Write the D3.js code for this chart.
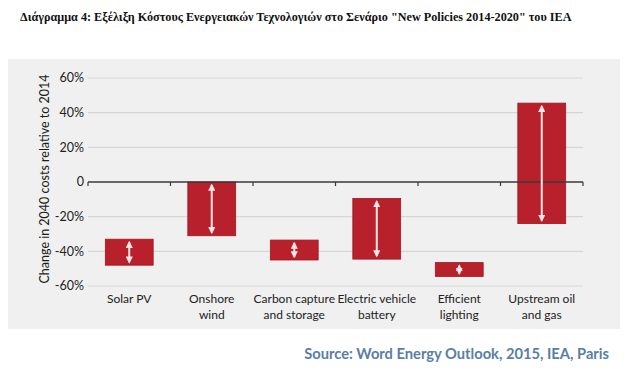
<!DOCTYPE html>
<html>
<head>
<meta charset="utf-8">
<script src="https://cdn.jsdelivr.net/npm/d3@7"></script>
<style>
  html, body { margin: 0; padding: 0; background: #ffffff; }
  svg { display: block; }
</style>
</head>
<body>
<svg id="chart" width="637" height="374"></svg>
<script>
const titleText = 'Διάγραμμα 4: Εξέλιξη Κόστους Ενεργειακών Τεχνολογιών στο Σενάριο "New Policies 2014-2020" του IEA';
const sourceText = 'Source: Word Energy Outlook, 2015, IEA, Paris';
const yAxisTitle = 'Change in 2040 costs relative to 2014';
const categories = [
  ['Solar PV'],
  ['Onshore', 'wind'],
  ['Carbon capture', 'and storage'],
  ['Electric vehicle', 'battery'],
  ['Efficient', 'lighting'],
  ['Upstream oil', 'and gas']
];
const lowValues  = [-48, -31, -45, -44.5, -54.5, -24];
const highValues = [-33, 0, -33.5, -9.5, -46.5, 45.5];
const yTicks = [60, 40, 20, 0, -20, -40, -60];
const yTickLabels = ['60%', '40%', '20%', '0', '-20%', '-40%', '-60%'];

const svg = d3.select('#chart');
const sans = 'Lato, "Open Sans", sans-serif';

// panel background
svg.append('rect').attr('x', 8).attr('y', 59).attr('width', 612).attr('height', 270).attr('fill', '#f0f0f0');

// title
svg.append('text').attr('x', 20).attr('y', 21)
  .attr('font-family', '"Liberation Serif", "Times New Roman", serif')
  .attr('font-weight', 'bold').attr('font-size', 12.2).attr('fill', '#111')
  .text(titleText);

const x = d3.scaleBand().domain(d3.range(categories.length)).range([88, 583]).paddingInner(0.42).paddingOuter(0.21);
const xb = d3.scaleBand().domain(d3.range(categories.length)).range([88, 583]);
const y = d3.scaleLinear().domain([-60, 60]).range([286, 78]);

// gridlines
svg.append('g').selectAll('line').data(yTicks.filter(d => d !== 0)).join('line')
  .attr('x1', 88).attr('x2', 583)
  .attr('y1', d => y(d)).attr('y2', d => y(d))
  .attr('stroke', '#d6d6d6').attr('stroke-width', 1.2);

// y tick labels
svg.append('g').selectAll('text').data(yTicks).join('text')
  .attr('x', 84).attr('y', d => y(d)).attr('dy', '0.35em')
  .attr('text-anchor', 'end').attr('font-family', sans).attr('font-size', 12.5).attr('fill', '#222')
  .text((d, i) => yTickLabels[i]);

// y axis title
svg.append('text')
  .attr('transform', `translate(49,${(y(60) + y(-60)) / 2 - 3}) rotate(-90)`)
  .attr('text-anchor', 'middle').attr('font-family', sans).attr('font-size', 12.5).attr('fill', '#1a1a1a')
  .text(yAxisTitle);

// bars
const idx = d3.range(categories.length);
svg.append('g').selectAll('rect').data(idx).join('rect')
  .attr('x', i => x(i)).attr('width', x.bandwidth())
  .attr('y', i => y(highValues[i])).attr('height', i => y(lowValues[i]) - y(highValues[i]))
  .attr('fill', '#b8202b').attr('stroke', '#a01822').attr('stroke-width', 0.8);

// zero axis line and ticks (drawn over bars)
svg.append('line').attr('x1', 88).attr('x2', 583).attr('y1', y(0)).attr('y2', y(0))
  .attr('stroke', '#3a3a3a').attr('stroke-width', 1.3);
const bounds = idx.map(i => xb(i)).concat([583]);
svg.append('g').selectAll('line').data(bounds).join('line')
  .attr('x1', d => d).attr('x2', d => d).attr('y1', y(0)).attr('y2', y(0) + 4)
  .attr('stroke', '#3a3a3a').attr('stroke-width', 1.2);

// double arrows
const defs = svg.append('defs');
defs.append('marker').attr('id', 'ah').attr('viewBox', '0 0 10 10').attr('refX', 8).attr('refY', 5)
  .attr('markerWidth', 3.6).attr('markerHeight', 3.6).attr('orient', 'auto-start-reverse')
  .attr('markerUnits', 'strokeWidth')
  .append('path').attr('d', 'M0,0 L10,5 L0,10 Z').attr('fill', '#fbe6e6');
svg.append('g').selectAll('line').data(idx).join('line')
  .attr('x1', i => x(i) + x.bandwidth() / 2).attr('x2', i => x(i) + x.bandwidth() / 2)
  .attr('y1', i => y(highValues[i]) + 3).attr('y2', i => y(lowValues[i]) - 3)
  .attr('stroke', '#fbe6e6').attr('stroke-width', 2)
  .attr('marker-start', 'url(#ah)').attr('marker-end', 'url(#ah)');

// category labels
const labels = svg.append('g').selectAll('text').data(idx).join('text')
  .attr('x', i => xb(i) + xb.bandwidth() / 2).attr('y', 303)
  .attr('text-anchor', 'middle').attr('font-family', sans).attr('font-size', 12).attr('fill', '#222');
labels.each(function(i) {
  const t = d3.select(this);
  categories[i].forEach((line, k) => {
    t.append('tspan').attr('x', xb(i) + xb.bandwidth() / 2).attr('dy', k === 0 ? 0 : 16).text(line);
  });
});

// source
svg.append('text').attr('x', 609).attr('y', 359).attr('text-anchor', 'end')
  .attr('font-family', sans).attr('font-weight', 'bold').attr('font-size', 14.7).attr('fill', '#5a7ea6')
  .text(sourceText);
</script>
</body>
</html>
